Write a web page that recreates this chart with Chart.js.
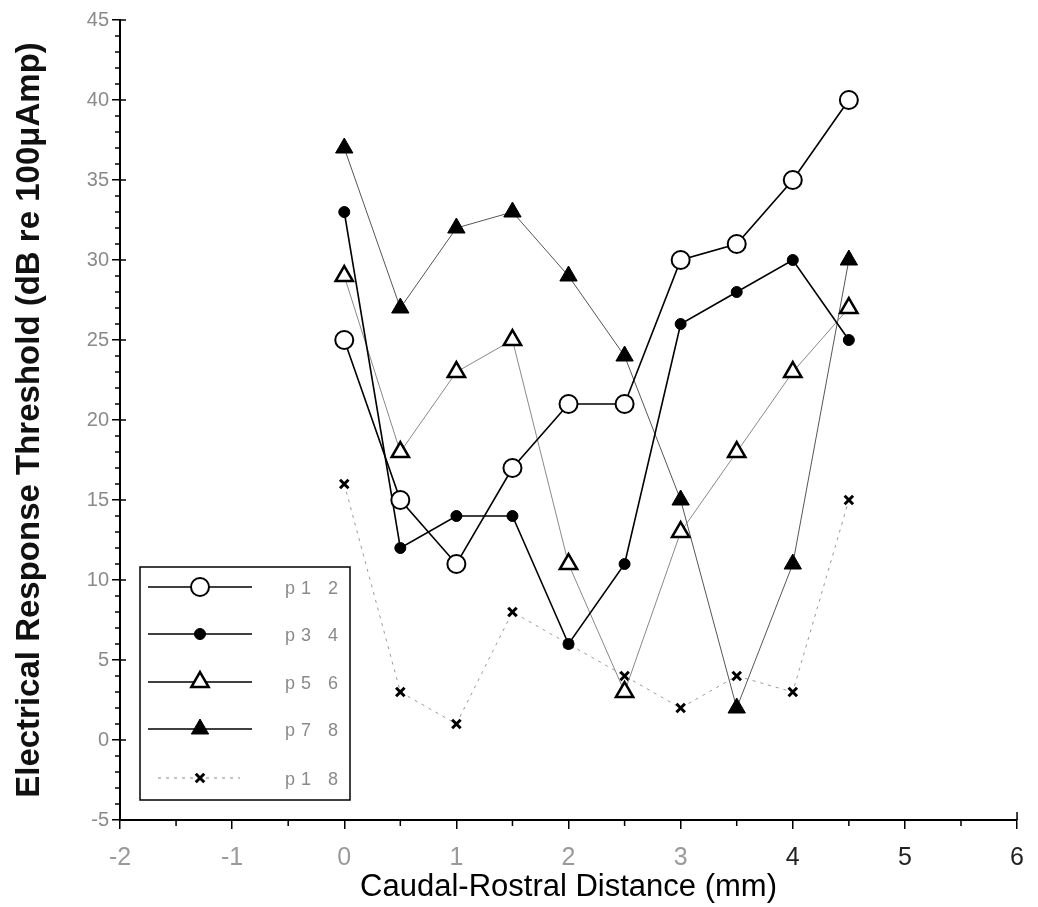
<!DOCTYPE html>
<html><head><meta charset="utf-8">
<script src="https://cdn.jsdelivr.net/npm/chart.js@4.4.1/dist/chart.umd.min.js"></script>
<style>html,body{margin:0;padding:0;background:#fff}#wrap{width:1038px;height:907px}</style>
</head><body><div id="wrap"><canvas id="c" width="1038" height="907"></canvas></div>
<script>
const distances = [0, 0.5, 1, 1.5, 2, 2.5, 3, 3.5, 4, 4.5];
const p12 = [25, 15, 11, 17, 21, 21, 30, 31, 35, 40];
const p34 = [33, 12, 14, 14, 6, 11, 26, 28, 30, 25];
const p56 = [29, 18, 23, 25, 11, 3, 13, 18, 23, 27];
const p78 = [37, 27, 32, 33, 29, 24, 15, 2, 11, 30];
const p18 = [16, 3, 1, 8, 6, 4, 2, 4, 3, 15];
const seriesLabels = ['p1 2', 'p3 4', 'p5 6', 'p7 8', 'p1 8'];
const xTickLabels = [-2, -1, 0, 1, 2, 3, 4, 5, 6];
const yTickLabels = [-5, 0, 5, 10, 15, 20, 25, 30, 35, 40, 45];
const xMinor = [-1.5, -0.5, 0.5, 1.5, 2.5, 3.5, 4.5, 5.5];
const yMinor = [];
for (let v = -4; v < 45; v++) if (v % 5 !== 0) yMinor.push(v);

const pts = arr => distances.map((x, i) => ({x: x, y: arr[i]}));
const FONT = "'Liberation Sans', Arial, Helvetica, sans-serif";
Chart.defaults.font.family = FONT;

const datasets = [
  {label: seriesLabels[0], data: pts(p12), pointStyle: 'circle', pointRadius: 9, pointBackgroundColor: '#fff', pointBorderColor: '#000', pointBorderWidth: 2, borderColor: '#000', borderWidth: 1.6},
  {label: seriesLabels[1], data: pts(p34), pointStyle: 'circle', pointRadius: 5.5, pointBackgroundColor: '#000', pointBorderColor: '#000', pointBorderWidth: 1, borderColor: '#000', borderWidth: 1.6},
  {label: seriesLabels[2], data: pts(p56), pointStyle: 'triangle', pointRadius: 10, pointBackgroundColor: '#fff', pointBorderColor: '#000', pointBorderWidth: 2.5, borderColor: '#888', borderWidth: 1},
  {label: seriesLabels[3], data: pts(p78), pointStyle: 'triangle', pointRadius: 10, pointBackgroundColor: '#000', pointBorderColor: '#000', pointBorderWidth: 1, borderColor: '#555', borderWidth: 1},
  {label: seriesLabels[4], data: pts(p18), pointStyle: 'crossRot', pointRadius: 6, pointBackgroundColor: '#000', pointBorderColor: '#000', pointBorderWidth: 3, borderColor: '#999', borderWidth: 1, borderDash: [3, 5]}
];
datasets.forEach(d => { d.fill = false; d.tension = 0; d.pointHoverRadius = d.pointRadius; });

function mark(ctx, style, x, y, r, fill, stroke, lw) {
  ctx.save();
  ctx.lineWidth = lw; ctx.strokeStyle = stroke; ctx.fillStyle = fill; ctx.setLineDash([]);
  ctx.beginPath();
  if (style === 'circle') ctx.arc(x, y, r, 0, Math.PI * 2);
  else if (style === 'triangle') {
    for (let k = 0; k < 3; k++) {
      const a = -Math.PI / 2 + k * 2 * Math.PI / 3;
      const px = x + Math.cos(a) * r, py = y + Math.sin(a) * r;
      if (k) ctx.lineTo(px, py); else ctx.moveTo(px, py);
    }
    ctx.closePath();
  } else if (style === 'crossRot') {
    const d = r * 0.707;
    ctx.moveTo(x - d, y - d); ctx.lineTo(x + d, y + d);
    ctx.moveTo(x + d, y - d); ctx.lineTo(x - d, y + d);
  }
  if (style !== 'crossRot') ctx.fill();
  ctx.stroke();
  ctx.restore();
}

const extras = {
  id: 'extras',
  afterDraw(chart) {
    const ctx = chart.ctx, xs = chart.scales.x, ys = chart.scales.y;
    const ax = xs.left, ay = ys.bottom;
    ctx.save();
    ctx.strokeStyle = '#000';
    ctx.lineWidth = 1.5;
    ctx.beginPath();
    xMinor.forEach(v => { const px = xs.getPixelForValue(v); ctx.moveTo(px, ay); ctx.lineTo(px, ay + 6); });
    yMinor.forEach(v => { const py = ys.getPixelForValue(v); ctx.moveTo(ax, py); ctx.lineTo(ax - 5, py); });
    yTickLabels.forEach(v => { const py = ys.getPixelForValue(v); ctx.moveTo(ax, py); ctx.lineTo(ax + 6, py); });
    const rx = xs.getPixelForValue(6);
    ctx.moveTo(rx, ay); ctx.lineTo(rx, ay - 8);
    ctx.stroke();

    // legend box
    const bx = 140, by = 567, bw = 210, bh = 233;
    ctx.fillStyle = '#fff';
    ctx.fillRect(bx, by, bw, bh);
    ctx.lineWidth = 1.5;
    ctx.strokeRect(bx, by, bw, bh);
    const rows = [587, 634, 682, 729, 778];
    chart.data.datasets.forEach((d, i) => {
      const y = rows[i];
      ctx.save();
      ctx.strokeStyle = i === 4 ? '#888' : '#000';
      ctx.lineWidth = i === 4 ? 1 : 1.5;
      ctx.setLineDash(i === 4 ? [3, 5] : []);
      ctx.beginPath();
      ctx.moveTo(i === 4 ? 158 : 148, y); ctx.lineTo(i === 4 ? 240 : 252, y);
      ctx.stroke();
      ctx.restore();
      mark(ctx, d.pointStyle, 200, y, d.pointRadius, d.pointBackgroundColor, d.pointBorderColor, d.pointBorderWidth);
      ctx.save();
      ctx.fillStyle = '#8a8a8a';
      ctx.font = '18px ' + FONT;
      ctx.textBaseline = 'middle';
      ctx.textAlign = 'left';
      try { ctx.letterSpacing = '6px'; } catch (e) {}
      ctx.fillText(d.label, 285, y + 2);
      ctx.restore();
    });
    ctx.restore();
  }
};

new Chart(document.getElementById('c'), {
  type: 'line',
  data: {datasets: datasets},
  options: {
    responsive: false,
    animation: false,
    layout: {padding: {top: 20, right: 8, bottom: 0, left: 0}},
    plugins: {legend: {display: false}, tooltip: {enabled: false}},
    scales: {
      x: {
        type: 'linear', min: -2, max: 6,
        afterBuildTicks: s => { s.ticks = xTickLabels.map(v => ({value: v})); },
        afterFit: s => { s.height = 87; },
        grid: {display: true, drawOnChartArea: false, drawTicks: true, tickLength: 9, color: '#000', lineWidth: 1.5},
        border: {display: true, color: '#000', width: 2},
        ticks: {padding: 14, autoSkip: false, maxRotation: 0, font: {size: 25},
          color: c => (c.tick && c.tick.value >= 4) ? '#222' : '#9a9a9a',
          callback: v => String(v)},
        title: {display: true, text: 'Caudal-Rostral Distance (mm)', color: '#000', font: {size: 31}, padding: {top: 0, bottom: 1}}
      },
      y: {
        type: 'linear', min: -5, max: 45,
        afterBuildTicks: s => { s.ticks = yTickLabels.map(v => ({value: v})); },
        afterFit: s => { s.width = 120; },
        grid: {display: true, drawOnChartArea: false, drawTicks: true, tickLength: 8, color: '#000', lineWidth: 1.5},
        border: {display: true, color: '#000', width: 2},
        ticks: {padding: 3, autoSkip: false, font: {size: 20}, color: '#8a8a8a', callback: v => String(v)},
        title: {display: true, text: 'Electrical Response Threshold (dB re 100\u03bcAmp)', color: '#111', font: {size: 33, weight: 'bold'}, padding: {top: 10, bottom: 0}}
      }
    }
  },
  plugins: [extras]
});
</script>
</body></html>
